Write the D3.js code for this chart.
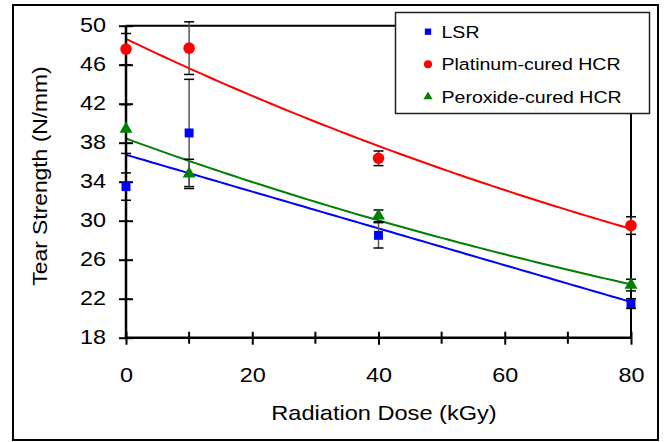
<!DOCTYPE html>
<html>
<head>
<meta charset="utf-8">
<script src="https://cdn.jsdelivr.net/npm/d3@7"></script>
<style>
  body { margin: 0; background: #fff; }
  text { font-family: "Liberation Sans", Arial, sans-serif; fill: #000; }
</style>
</head>
<body>
<div id="target"></div>
<script>
const doses = [0, 10, 40, 80];
const lsr = [33.5, 39.0, 28.5, 21.5];
const lsrErr = [1.4, 5.5, 1.3, 0.5];
const platinum = [47.6, 47.7, 36.4, 29.5];
const platinumErr = [1.6, 2.7, 0.75, 0.9];
const peroxide = [39.4, 34.8, 30.5, 23.4];
const peroxideErr = [2.5, 1.5, 0.6, 0.6];
const xTicks = [0, 20, 40, 60, 80];
const xMinor = [10, 30, 50, 70];
const yTicks = [18, 22, 26, 30, 34, 38, 42, 46, 50];

const width = 665;
const height = 442;
const margin = {'top': 25.7, 'right': 34, 'bottom': 104.3, 'left': 126};
const stretch = 1.2; // the original font runs wide

const series = [
  {'name': 'LSR', 'values': lsr, 'err': lsrErr, 'color': '#0000ff', 'shape': 'square', 'fit': 'linear'},
  {'name': 'Platinum-cured HCR', 'values': platinum, 'err': platinumErr, 'color': '#ff0000', 'shape': 'circle', 'fit': 'exp'},
  {'name': 'Peroxide-cured HCR', 'values': peroxide, 'err': peroxideErr, 'color': '#008000', 'shape': 'triangle', 'fit': 'exp'}
];

const svg = d3.select('#target')
  .append('svg')
  .attr('width', width)
  .attr('height', height);

// outer frame
svg.append('rect')
  .attr('x', 13).attr('y', 5)
  .attr('width', 645).attr('height', 435)
  .attr('fill', 'none')
  .attr('stroke', '#000')
  .attr('stroke-width', 2);

const x = d3.scaleLinear()
  .domain([0, 80])
  .range([margin.left, width - margin.right]);

const y = d3.scaleLinear()
  .domain([18, 50])
  .range([height - margin.bottom, margin.top]);

// least squares trend, plain or on ln(y)
const fitLine = (xs, ys, type) => {
  const ly = type === 'exp' ? ys.map((v) => Math.log(v)) : ys;
  const mx = d3.mean(xs);
  const my = d3.mean(ly);
  const sxy = d3.sum(xs, (v, i) => (v - mx) * (ly[i] - my));
  const sxx = d3.sum(xs, (v) => (v - mx) * (v - mx));
  const b = sxy / sxx;
  const a = my - b * mx;
  if (type === 'exp') return (t) => Math.exp(a + b * t);
  return (t) => a + b * t;
};

// plot box top / right
svg.append('path')
  .attr('d', `M${x(0)},${y(50)}H${x(80)}V${y(18)}`)
  .attr('fill', 'none')
  .attr('stroke', '#000')
  .attr('stroke-width', 2);

// trend lines
const lines = svg.append('g').attr('class', 'trends');
series.forEach((s) => {
  const f = fitLine(doses, s.values, s.fit);
  const pts = d3.range(0, 80.01, 1);
  lines.append('path')
    .datum(pts)
    .attr('fill', 'none')
    .attr('stroke', s.color)
    .attr('stroke-width', 2)
    .attr('d', d3.line().x((d) => x(d)).y((d) => y(f(d))));
});

// error bars
const errs = svg.append('g').attr('class', 'errors');
series.forEach((s) => {
  doses.forEach((d, i) => {
    const lo = s.values[i] - s.err[i];
    const hi = s.values[i] + s.err[i];
    errs.append('line')
      .attr('x1', x(d)).attr('x2', x(d))
      .attr('y1', y(lo)).attr('y2', y(hi))
      .attr('stroke', '#555')
      .attr('stroke-width', 1.5);
    [lo, hi].forEach((v) => {
      errs.append('line')
        .attr('x1', x(d) - 5).attr('x2', x(d) + 5)
        .attr('y1', y(v)).attr('y2', y(v))
        .attr('stroke', '#000')
        .attr('stroke-width', 1.5);
    });
  });
});

// axes
const yAxis = svg.append('g')
  .attr('transform', `translate(${x(0)},0)`)
  .call(d3.axisLeft(y).tickValues(yTicks).tickSize(7));
yAxis.selectAll('.tick line').attr('x2', 7).attr('x1', -7).attr('stroke-width', 2);
yAxis.select('.domain').attr('stroke-width', 2.5).attr('d', `M0,${y(18)}V${y(50)}`);
yAxis.selectAll('text')
  .attr('font-size', 19.5)
  .attr('font-family', '"Liberation Sans", Arial, sans-serif')
  .attr('x', 0)
  .attr('transform', `translate(-20,0) scale(${stretch},1)`);

const xAxis = svg.append('g')
  .attr('transform', `translate(0,${y(18)})`)
  .call(d3.axisBottom(x).tickValues(xTicks).tickSize(7));
xAxis.selectAll('.tick line').attr('y1', -6).attr('y2', 7).attr('stroke-width', 2);
xAxis.select('.domain').attr('stroke-width', 2.5).attr('d', `M${x(0)},0H${x(80)}`);
xAxis.selectAll('text')
  .attr('font-size', 19.5)
  .attr('font-family', '"Liberation Sans", Arial, sans-serif')
  .attr('y', 44).attr('dy', 0)
  .attr('transform', `scale(${stretch},1)`)
  .attr('x', 0);

svg.append('g')
  .selectAll('line')
  .data(xMinor)
  .enter()
  .append('line')
  .attr('x1', (d) => x(d)).attr('x2', (d) => x(d))
  .attr('y1', y(18) - 6).attr('y2', y(18) + 6)
  .attr('stroke', '#000')
  .attr('stroke-width', 2);

// markers
const symbolFor = (shape, size) => {
  if (shape === 'square') return d3.symbol().type(d3.symbolSquare).size(size)();
  if (shape === 'circle') return d3.symbol().type(d3.symbolCircle).size(size * 1.3)();
  return d3.symbol().type(d3.symbolTriangle).size(size * 0.9)();
};
const marks = svg.append('g').attr('class', 'marks');
series.forEach((s) => {
  marks.selectAll(null)
    .data(doses)
    .enter()
    .append('path')
    .attr('d', symbolFor(s.shape, 80))
    .attr('transform', (d, i) => `translate(${x(d)},${y(s.values[i])})`)
    .attr('fill', s.color);
});

// axis titles
svg.append('text')
  .attr('transform', `translate(384,420) scale(1.18,1)`)
  .attr('text-anchor', 'middle')
  .attr('font-size', 20)
  .text('Radiation Dose (kGy)');

svg.append('text')
  .attr('transform', `translate(47,176) rotate(-90) scale(1.17,1)`)
  .attr('text-anchor', 'middle')
  .attr('font-size', 19.5)
  .text('Tear Strength (N/mm)');

// legend
const legend = svg.append('g').attr('class', 'legend');
legend.append('rect')
  .attr('x', 395.5).attr('y', 12.5)
  .attr('width', 254).attr('height', 101)
  .attr('fill', '#fff')
  .attr('stroke', '#222')
  .attr('stroke-width', 1.5);
series.forEach((s, i) => {
  const ly = 31.7 + i * 32.5;
  legend.append('path')
    .attr('d', symbolFor(s.shape, 40))
    .attr('transform', `translate(428,${ly})`)
    .attr('fill', s.color);
  legend.append('text')
    .attr('transform', `translate(441.5,${ly}) scale(1.15,1)`)
    .attr('dy', '0.36em')
    .attr('font-size', 17)
    .text(s.name);
});
</script>
</body>
</html>
